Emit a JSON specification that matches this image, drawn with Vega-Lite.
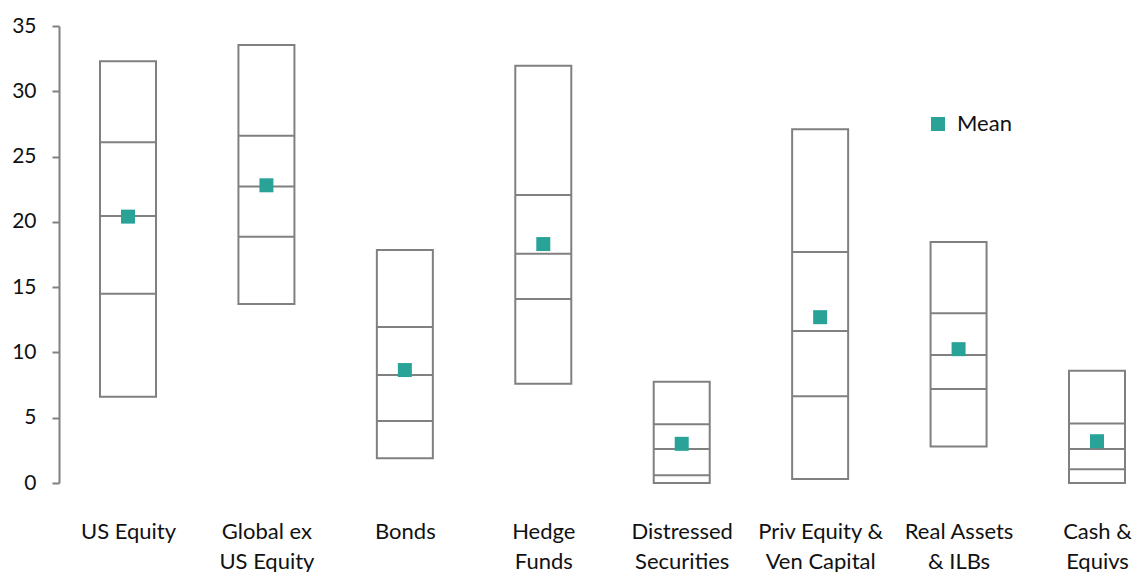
{
  "$schema": "https://vega.github.io/schema/vega-lite/v6.json",
  "width": 1075,
  "height": 457,
  "autosize": {"type": "none"},
  "padding": {"left": 59, "top": 26, "right": 0, "bottom": 89},
  "config": {"view": {"stroke": null}, "font": "Lato"},
  "data": {
    "values": [
      {"asset": "US Equity", "lo": 6.6, "q1": 14.5, "med": 20.45, "q3": 26.1, "hi": 32.3, "mean": 20.4},
      {"asset": "Global ex|US Equity", "lo": 13.7, "q1": 18.85, "med": 22.7, "q3": 26.6, "hi": 33.55, "mean": 22.8},
      {"asset": "Bonds", "lo": 1.9, "q1": 4.75, "med": 8.27, "q3": 11.95, "hi": 17.85, "mean": 8.65},
      {"asset": "Hedge|Funds", "lo": 7.6, "q1": 14.1, "med": 17.55, "q3": 22.05, "hi": 31.95, "mean": 18.3},
      {"asset": "Distressed|Securities", "lo": 0.0, "q1": 0.6, "med": 2.6, "q3": 4.5, "hi": 7.75, "mean": 3.0},
      {"asset": "Priv Equity &|Ven Capital", "lo": 0.3, "q1": 6.65, "med": 11.65, "q3": 17.7, "hi": 27.1, "mean": 12.7},
      {"asset": "Real Assets|& ILBs", "lo": 2.8, "q1": 7.2, "med": 9.8, "q3": 13.0, "hi": 18.45, "mean": 10.25},
      {"asset": "Cash &|Equivs", "lo": 0.0, "q1": 1.05, "med": 2.6, "q3": 4.55, "hi": 8.6, "mean": 3.2}
    ]
  },
  "encoding": {
    "x": {
      "field": "asset",
      "type": "nominal",
      "sort": null,
      "title": null,
      "scale": {"type": "point", "range": [69, 1038], "padding": 0},
      "axis": {
        "domain": false,
        "ticks": false,
        "labelAngle": 0,
        "labelFontSize": 22,
        "labelColor": "#111111",
        "labelPadding": 38,
        "labelLineHeight": 30,
        "labelOverlap": false,
        "labelBound": false,
        "labelExpr": "split(datum.label, '|')"
      }
    }
  },
  "layer": [
    {
      "mark": {"type": "bar", "size": 56, "fill": "transparent", "stroke": "#808080", "strokeWidth": 2},
      "encoding": {
        "y": {
          "field": "lo",
          "type": "quantitative",
          "title": null,
          "scale": {"domain": [0, 35], "nice": false},
          "axis": {
            "values": [0, 5, 10, 15, 20, 25, 30, 35],
            "grid": false,
            "domainColor": "#808080",
            "domainWidth": 2,
            "tickColor": "#808080",
            "tickWidth": 2,
            "tickSize": 7,
            "labelFontSize": 21,
            "labelColor": "#111111",
            "labelPadding": 16
          }
        },
        "y2": {"field": "hi"}
      }
    },
    {
      "transform": [{"fold": ["q1", "med", "q3"], "as": ["stat", "val"]}],
      "mark": {"type": "tick", "size": 56, "thickness": 2, "color": "#808080", "opacity": 1},
      "encoding": {
        "y": {"field": "val", "type": "quantitative"}
      }
    },
    {
      "mark": {"type": "point", "shape": "square", "filled": true, "size": 196, "opacity": 1},
      "encoding": {
        "y": {"field": "mean", "type": "quantitative"},
        "color": {
          "datum": "Mean",
          "scale": {"range": ["#29a398"]},
          "legend": {
            "orient": "none",
            "legendX": 868,
            "legendY": 87,
            "title": null,
            "symbolType": "square",
            "symbolSize": 196,
            "symbolStrokeWidth": 0,
            "labelFontSize": 22,
            "labelColor": "#111111",
            "labelOffset": 8
          }
        }
      }
    }
  ]
}
